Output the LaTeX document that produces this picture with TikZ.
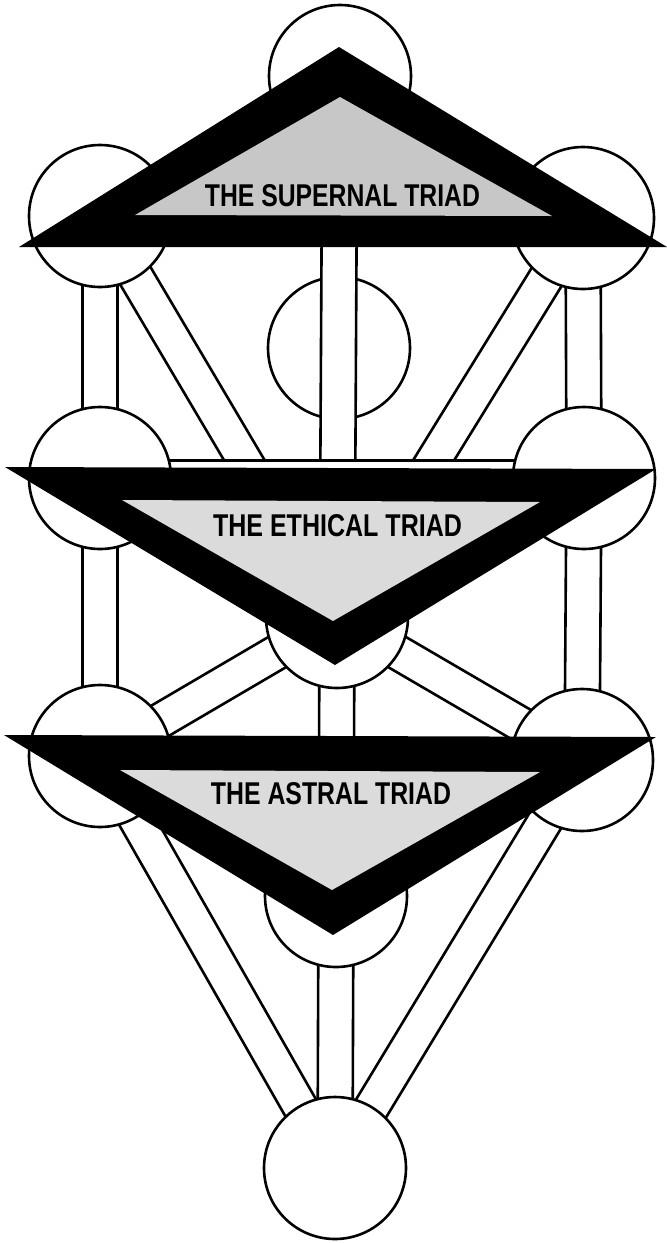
\documentclass[tikz,border=0pt]{standalone}
\usepackage{fontspec}
\setsansfont{Liberation Sans}
\usetikzlibrary{calc}
\pgfdeclarelayer{back}
\pgfdeclarelayer{paths}
\pgfsetlayers{back,paths,main}
\tikzset{
  sephira/.style={circle, draw=black, fill=white, line width=2.6pt, minimum size=142pt, inner sep=0pt, outer sep=0pt},
  pathline/.style={draw=black, line width=2.6pt},
  outertri/.style={fill=black},
  innertri/.style={fill=black!22},
  innertrilight/.style={fill=black!14},
  triadlabel/.style={inner sep=0pt, outer sep=0pt, font=\sffamily\bfseries},
}
\newcommand\channel[2]{%
  \fill[white] ($(#1.center)!17.5pt!90:(#2.center)$) -- ($(#2.center)!17.5pt!-90:(#1.center)$)
     -- ($(#2.center)!17.5pt!90:(#1.center)$) -- ($(#1.center)!17.5pt!-90:(#2.center)$) -- cycle;
  \draw[pathline] ($(#1.center)!17.5pt!90:(#2.center)$) -- ($(#2.center)!17.5pt!-90:(#1.center)$);
  \draw[pathline] ($(#1.center)!17.5pt!-90:(#2.center)$) -- ($(#2.center)!17.5pt!90:(#1.center)$);
}
\begin{document}
\begin{tikzpicture}[x=1pt,y=-1pt]
\useasboundingbox (0,0) rectangle (667,1243);
\begin{pgfonlayer}{back}
  \fill[white] (0,0) rectangle (667,1243);
  \node[sephira] (daath) at (339,348) {};
\end{pgfonlayer}
% sephiroth
\node[sephira] (kether)    at (340,76)   {};
\node[sephira] (binah)     at (100,216)  {};
\node[sephira] (chokmah)   at (583,218)  {};
\node[sephira] (geburah)   at (100,478)  {};
\node[sephira] (chesed)    at (584,478)  {};
\node[sephira] (tiphareth) at (337,617)  {};
\node[sephira] (hod)       at (100,756)  {};
\node[sephira] (netzach)   at (582,760)  {};
\node[sephira] (yesod)     at (336,896)  {};
\node[sephira] (malkuth)   at (335,1168) {};
% paths
\begin{pgfonlayer}{paths}
  \channel{binah}{tiphareth}
  \channel{chokmah}{tiphareth}
  \channel{kether}{tiphareth}
  \channel{geburah}{chesed}
  \channel{binah}{geburah}
  \channel{chokmah}{chesed}
  \channel{geburah}{hod}
  \channel{chesed}{netzach}
  \channel{tiphareth}{hod}
  \channel{tiphareth}{netzach}
  \channel{tiphareth}{yesod}
  \channel{hod}{malkuth}
  \channel{netzach}{malkuth}
  \channel{yesod}{malkuth}
\end{pgfonlayer}
% supernal triad
\fill[outertri] (339,47) -- (667,247) -- (19,247) -- cycle;
\fill[innertri] (340,97) -- (552,216) -- (135,215) -- cycle;
\node[triadlabel] (supernal) at (342.5,196) {\resizebox{275pt}{22pt}{THE SUPERNAL TRIAD}};
% ethical triad
\fill[outertri] (5,467) -- (656,469) -- (335,665) -- cycle;
\fill[innertrilight] (122,500) -- (540,502) -- (333,621) -- cycle;
\node[triadlabel] (ethical) at (337.5,526) {\resizebox{249pt}{22pt}{THE ETHICAL TRIAD}};
% astral triad
\fill[outertri] (4,735) -- (656,737) -- (333,935) -- cycle;
\fill[innertrilight] (120,770) -- (540,772) -- (332,890) -- cycle;
\node[triadlabel] (astral) at (331,794) {\resizebox{240pt}{22pt}{THE ASTRAL TRIAD}};
\end{tikzpicture}
\end{document}
